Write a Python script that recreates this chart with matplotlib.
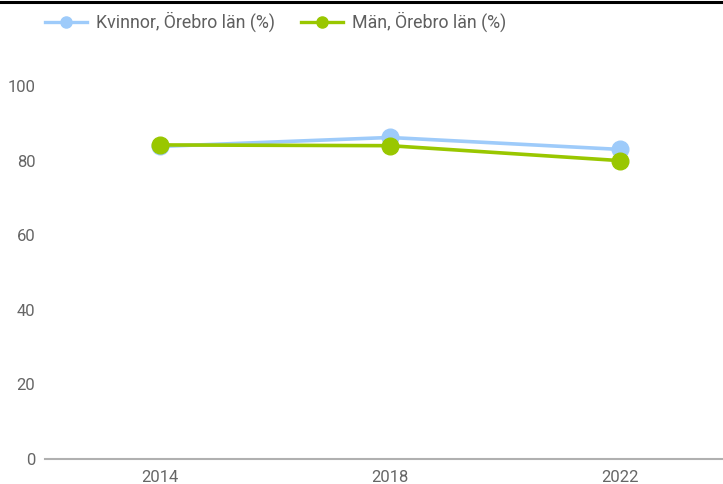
import matplotlib
matplotlib.use("Agg")
import matplotlib.pyplot as plt
from matplotlib.lines import Line2D

years = ["2014", "2018", "2022"]
kvinnor = [83.8, 86.2, 83.0]
man = [84.2, 84.0, 80.0]
yticks = [0, 20, 40, 60, 80, 100]

plt.rcParams['font.family'] = ['Roboto', 'DejaVu Sans']

W, H = 723, 484
fig = plt.figure(figsize=(W/100, H/100), dpi=100)
ax = fig.add_axes([45/W, (H-459)/H, 1-45/W, (459-86)/H])

x = list(range(len(years)))
blue = '#9ecbfa'
green = '#99c700'
ax.plot(x, kvinnor, color=blue, lw=2.6, marker='o', ms=12, label='Kvinnor, Örebro län (%)', clip_on=False, zorder=3)
ax.plot(x, man, color=green, lw=2.6, marker='o', ms=12, label='Män, Örebro län (%)', clip_on=False, zorder=4)

ax.set_xlim(-0.5, 2.45)
ax.set_ylim(0, 100)
ax.set_xticks(x)
ax.set_xticklabels(years)
ax.set_yticks(yticks)
for s in ['top', 'right', 'left']:
    ax.spines[s].set_visible(False)
ax.spines['bottom'].set_color('#b0b0b0')
ax.spines['bottom'].set_linewidth(1.5)
ax.tick_params(axis='both', length=0, labelsize=12, colors='#666666')
ax.tick_params(axis='y', pad=7)
ax.tick_params(axis='x', pad=8)

leg = fig.legend(loc='center left', bbox_to_anchor=(45/W, 1-22/H), ncol=2, frameon=False,
                 fontsize=12.8, handlelength=2.35, handletextpad=0.5, columnspacing=1.5,
                 labelcolor='#5f5f5f', borderaxespad=0, borderpad=0)
for h in leg.legend_handles:
    h.set_markersize(8)
    h.set_linewidth(2.4)

fig.add_artist(Line2D([0, 1], [1-1.5/H, 1-1.5/H], color='black', lw=2.2, transform=fig.transFigure))

fig.savefig('out.png', dpi=100)
